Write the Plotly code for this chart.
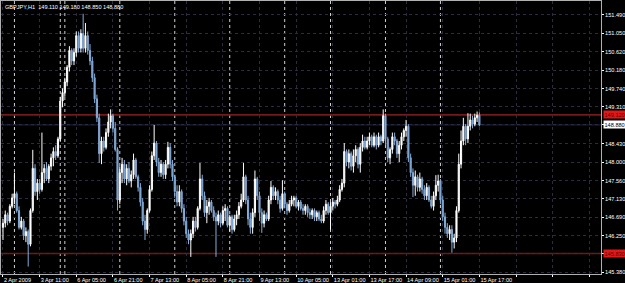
import plotly.graph_objects as go

# ---- data (GBPJPY H1) ----
opens = [146.45,146.55,146.75,146.60,146.95,147.15,147.25,146.85,146.45,146.60,
         146.25,146.35,146.05,146.85,147.85,147.30,147.50,147.35,147.75,147.85,
         147.60,147.90,148.10,148.25,148.15,148.55,149.45,149.65,149.90,150.25,
         150.65,150.40,150.60,151.00,150.70,151.05,150.70,151.00,150.65,150.40,
         150.00,149.50,149.05,148.20,148.50,148.35,148.70,148.95,149.10,148.80,
         148.30,147.10,147.75,147.95,147.60,147.85,147.55,147.70,148.05,147.65,
         147.40,147.05,146.60,146.40,146.85,147.35,148.15,148.45,148.00,147.75,
         147.95,147.70,147.95,148.35,147.95,147.65,147.30,147.05,147.30,146.90,
         146.60,146.30,146.15,146.30,146.60,146.45,146.90,147.60,147.20,146.80,
         146.95,147.05,146.85,146.70,146.60,146.75,146.55,146.85,146.90,146.50,
         146.70,146.40,146.65,146.75,146.95,147.10,147.65,147.10,146.65,146.45,
         146.80,147.60,147.20,146.80,146.55,146.75,146.65,147.10,147.40,147.20,
         147.30,147.10,146.90,147.25,147.00,146.85,147.00,147.10,147.15,146.95,
         147.05,146.90,146.85,146.95,146.80,146.75,146.85,146.70,146.80,146.65,
         146.60,146.85,147.00,146.80,146.95,147.05,147.00,147.10,147.35,147.50,
         148.25,148.00,148.20,147.90,148.15,148.30,147.95,148.35,148.50,148.35,
         148.50,148.60,148.40,148.60,148.40,148.60,148.50,149.10,148.55,148.10,
         148.30,148.60,148.50,148.20,148.40,148.60,148.75,148.85,148.10,147.75,
         147.45,147.65,147.40,147.60,147.35,147.20,147.40,147.10,146.95,147.20,
         147.45,147.55,147.10,146.70,146.45,146.30,146.40,146.10,146.20,146.85,
         147.95,148.50,148.85,148.55,148.85,149.00,148.90,149.05,149.11]
highs = [146.65,146.85,146.80,147.00,147.25,147.75,147.30,146.95,146.70,146.65,
         146.45,146.40,146.90,148.29,147.95,147.60,147.60,148.70,147.95,148.00,
         147.95,148.20,148.35,148.40,148.60,149.55,149.75,150.00,150.30,150.75,
         150.70,150.70,151.10,151.10,151.15,151.52,151.30,151.10,150.80,150.50,
         150.10,149.60,149.15,148.60,148.60,148.80,149.15,149.25,149.15,148.95,
         148.35,147.90,148.10,148.05,147.95,148.00,147.80,148.20,148.10,147.70,
         147.50,147.15,146.75,146.90,147.45,148.25,148.88,148.50,148.10,148.05,
         148.00,148.05,148.48,148.45,148.05,147.70,147.45,147.45,147.35,147.00,
         146.70,146.40,146.40,146.70,146.70,146.95,147.98,147.70,147.30,147.10,
         147.15,147.10,146.95,146.80,146.85,146.80,146.95,147.00,146.95,146.75,
         146.75,146.75,146.85,147.05,147.25,147.98,147.70,147.20,146.80,146.90,
         147.80,147.65,147.30,146.90,146.85,146.80,147.20,147.55,147.45,147.40,
         147.35,147.20,147.57,147.30,147.05,147.10,147.20,147.20,147.20,147.10,
         147.10,147.00,147.00,147.00,146.90,146.90,146.90,146.85,146.85,146.75,
         146.95,147.10,147.05,147.05,147.15,147.10,147.20,147.45,147.60,148.45,
         148.30,148.30,148.25,148.30,148.40,148.35,148.45,148.65,148.60,148.60,
         148.70,148.65,148.70,148.65,148.70,148.65,149.25,149.15,148.60,148.35,
         148.70,148.70,148.55,148.50,148.70,148.80,149.00,148.90,148.20,147.85,
         147.80,147.70,147.75,147.65,147.45,147.50,147.45,147.20,147.30,147.69,
         147.70,147.60,147.20,146.80,146.55,146.50,146.50,146.30,146.95,148.20,
         148.75,149.05,148.90,149.16,149.15,149.10,149.15,149.20,149.18]
lows = [146.15,146.45,146.50,146.55,146.90,147.00,146.80,146.40,146.40,146.15,
        146.10,145.52,146.00,146.80,147.20,147.10,147.25,147.30,147.50,147.55,
        147.50,147.80,147.90,148.05,148.10,148.50,149.30,149.55,149.80,150.15,
        150.30,150.30,150.50,150.60,150.60,150.60,150.60,150.55,150.30,149.90,
        149.40,148.95,147.98,147.95,148.25,148.30,148.60,148.80,148.70,148.25,
        146.85,147.00,147.50,147.50,147.45,147.50,147.40,147.60,147.60,147.30,
        146.95,146.50,146.15,146.30,146.80,147.30,148.05,147.90,147.65,147.65,
        147.60,147.60,147.85,147.85,147.55,147.15,146.95,146.95,146.80,146.50,
        146.20,146.05,145.75,146.20,146.35,146.40,146.85,147.10,146.70,146.55,
        146.75,146.80,146.60,145.75,146.50,146.45,146.50,146.60,146.45,146.35,
        146.30,146.35,146.50,146.65,146.90,147.05,147.00,146.50,146.30,146.30,
        146.70,147.10,146.60,146.32,146.45,146.60,146.60,147.00,147.10,147.10,
        147.00,146.80,146.85,146.90,146.75,146.80,146.95,146.95,146.90,146.85,
        146.85,146.75,146.75,146.70,146.65,146.65,146.60,146.60,146.60,146.55,
        146.55,146.75,146.75,146.40,146.85,146.90,146.95,147.05,147.30,147.40,
        147.90,147.85,147.80,147.75,148.00,147.85,147.75,148.25,148.30,148.30,
        148.40,148.35,148.35,148.30,148.35,148.40,148.45,148.40,148.00,147.95,
        148.20,148.40,148.10,148.00,148.30,148.50,148.60,148.00,147.65,147.17,
        147.20,147.30,147.30,147.25,147.10,147.10,147.05,146.90,146.85,147.10,
        147.30,147.00,146.60,146.30,146.20,146.15,145.85,145.95,146.10,146.80,
        147.85,148.40,148.40,148.45,148.75,148.80,148.85,148.95,148.85]
closes = [146.55,146.75,146.60,146.95,147.15,147.25,146.85,146.45,146.60,146.25,
          146.35,146.05,146.85,147.85,147.30,147.50,147.35,147.75,147.85,147.60,
          147.90,148.10,148.25,148.15,148.55,149.45,149.65,149.90,150.25,150.65,
          150.40,150.60,151.00,150.70,151.05,150.70,151.00,150.65,150.40,150.00,
          149.50,149.05,148.20,148.50,148.35,148.70,148.95,149.10,148.80,148.30,
          147.10,147.75,147.95,147.60,147.85,147.55,147.70,148.05,147.65,147.40,
          147.05,146.60,146.40,146.85,147.35,148.15,148.45,148.00,147.75,147.95,
          147.70,147.95,148.35,147.95,147.65,147.30,147.05,147.30,146.90,146.60,
          146.30,146.15,146.30,146.60,146.45,146.90,147.60,147.20,146.80,146.95,
          147.05,146.85,146.70,146.60,146.75,146.55,146.85,146.90,146.50,146.70,
          146.40,146.65,146.75,146.95,147.10,147.65,147.10,146.65,146.45,146.80,
          147.60,147.20,146.80,146.55,146.75,146.65,147.10,147.40,147.20,147.30,
          147.10,146.90,147.25,147.00,146.85,147.00,147.10,147.15,146.95,147.05,
          146.90,146.85,146.95,146.80,146.75,146.85,146.70,146.80,146.65,146.60,
          146.85,147.00,146.80,146.95,147.05,147.00,147.10,147.35,147.50,148.25,
          148.00,148.20,147.90,148.15,148.30,147.95,148.35,148.50,148.35,148.50,
          148.60,148.40,148.60,148.40,148.60,148.50,149.10,148.55,148.10,148.30,
          148.60,148.50,148.20,148.40,148.60,148.75,148.85,148.10,147.75,147.45,
          147.65,147.40,147.60,147.35,147.20,147.40,147.10,146.95,147.20,147.45,
          147.55,147.10,146.70,146.45,146.30,146.40,146.10,146.20,146.85,147.95,
          148.50,148.85,148.55,148.85,149.00,148.90,149.05,149.11,148.88]

day_starts = [5, 25, 27, 51, 75, 99, 123, 143, 167, 191]
time_tick_idx = [0, 16, 32, 48, 64, 80, 96, 112, 128, 144, 160, 176, 192, 208, 224, 240, 256]
time_tick_text = ["2 Apr 2009", "3 Apr 11:00", "6 Apr 05:00", "6 Apr 21:00", "7 Apr 13:00",
                  "8 Apr 05:00", "8 Apr 21:00", "9 Apr 13:00", "10 Apr 05:00", "13 Apr 01:00",
                  "13 Apr 17:00", "14 Apr 09:00", "15 Apr 01:00", "15 Apr 17:00", "", "", ""]
price_ticks = [151.49, 151.05, 150.62, 150.18, 149.74, 149.31, 148.88, 148.43,
               148.00, 147.56, 147.13, 146.69, 146.25, 145.82, 145.38]
red_levels = [149.12, 145.83]
red_labels = ["149.120", "145.830"]
bid_price = 148.88
header = "GBPJPY,H1  149.110 149.180 148.850 148.880"

bar_idx = list(range(len(closes)))
FONT = "Liberation Sans"
FS = 5.6

fig = go.Figure(go.Candlestick(
    x=bar_idx, open=opens, high=highs, low=lows, close=closes,
    increasing=dict(line=dict(color="#ffffff", width=1), fillcolor="#ffffff"),
    decreasing=dict(line=dict(color="#86acd8", width=1), fillcolor="#6b9bd2"),
    whiskerwidth=0, hoverinfo="skip", showlegend=False))

shapes = []
for d in day_starts:
    shapes.append(dict(type="line", xref="x", yref="paper", x0=d, x1=d, y0=0, y1=1,
                       line=dict(color="#d0d0d0", width=1, dash="dot"), layer="between"))
for lv in red_levels:
    shapes.append(dict(type="line", xref="paper", yref="y", x0=0, x1=1, y0=lv, y1=lv,
                       line=dict(color="#741a1a", width=1.6), layer="between"))
shapes.append(dict(type="line", xref="paper", yref="y", x0=0, x1=1, y0=bid_price, y1=bid_price,
                   line=dict(color="#20204e", width=1), layer="between"))

annotations = [dict(text=header, xref="paper", yref="paper", x=0.004, y=0.998,
                    xanchor="left", yanchor="top", showarrow=False,
                    font=dict(family=FONT, size=FS, color="#ffffff"))]
for lv, lb in zip(red_levels, red_labels):
    annotations.append(dict(text=lb, xref="paper", yref="y", x=1.0, y=lv, xshift=2,
                            xanchor="left", yanchor="middle", showarrow=False,
                            bgcolor="#e01818", borderpad=0.5,
                            font=dict(family=FONT, size=FS, color="#6a0000")))
annotations.append(dict(text=f"{bid_price:.3f}", xref="paper", yref="y", x=1.0, y=bid_price,
                        xshift=2, xanchor="left", yanchor="middle", showarrow=False,
                        bgcolor="#ffffff", borderpad=0.5,
                        font=dict(family=FONT, size=FS, color="#000000")))

GRID = "#2c2c40"
fig.update_layout(
    width=625, height=283,
    margin=dict(l=1, r=24, t=1, b=9, pad=0),
    paper_bgcolor="#000000", plot_bgcolor="#000000",
    font=dict(family=FONT, size=FS, color="#ffffff"),
    shapes=shapes, annotations=annotations,
    xaxis=dict(range=[-0.87, 261.1], rangeslider=dict(visible=False),
               tickmode="array", tickvals=time_tick_idx, ticktext=time_tick_text,
               tickangle=0, automargin=False,
               ticks="outside", ticklen=2, tickcolor="#ffffff",
               ticklabelposition="outside right",
               showgrid=True, gridcolor=GRID, griddash="dot", gridwidth=1,
               showline=True, linecolor="#b0b0b0", mirror=True, zeroline=False,
               tickfont=dict(family=FONT, size=FS, color="#ffffff")),
    yaxis=dict(range=[145.344, 151.822], side="right", automargin=False,
               tickmode="array", tickvals=price_ticks,
               ticktext=[f"{p:.3f}" for p in price_ticks],
               ticks="outside", ticklen=2, tickcolor="#ffffff",
               showgrid=True, gridcolor=GRID, griddash="dot", gridwidth=1,
               showline=True, linecolor="#b0b0b0", mirror=True, zeroline=False,
               tickfont=dict(family=FONT, size=FS, color="#ffffff")),
)

fig.write_html("out.html", config={"displayModeBar": False})
